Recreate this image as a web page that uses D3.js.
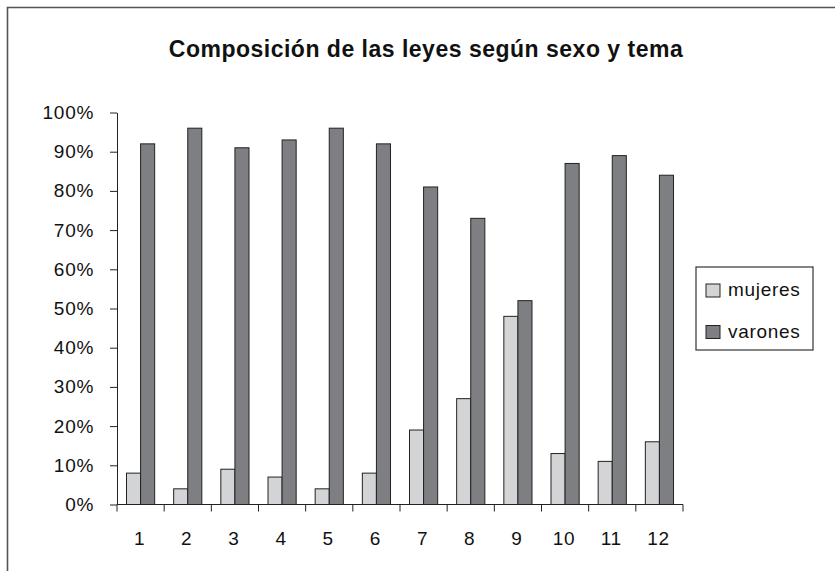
<!DOCTYPE html>
<html>
<head>
<meta charset="utf-8">
<script src="https://cdn.jsdelivr.net/npm/d3@7"></script>
<style>
  html, body { margin: 0; padding: 0; background: #fff; }
  svg { display: block; font-family: "Liberation Sans", Arial, Helvetica, sans-serif; }
</style>
</head>
<body>
<svg id="chart" width="835" height="571"></svg>
<script>
// data
const temas = ["1", "2", "3", "4", "5", "6", "7", "8", "9", "10", "11", "12"];
const series = ["mujeres", "varones"];
const mujeres = [8, 4, 9, 7, 4, 8, 19, 27, 48, 13, 11, 16];
const varones = [92, 96, 91, 93, 96, 92, 81, 73, 52, 87, 89, 84];
const yTicks = [0, 10, 20, 30, 40, 50, 60, 70, 80, 90, 100];
const colors = { mujeres: "#d3d4d6", varones: "#7e7f83" };

const labelSize = 19, labelSpacing = 0.7;

const svg = d3.select("#chart");

// outer frame (only top and left visible)
svg.append("path")
  .attr("d", "M7.5,571V7.5H835")
  .attr("fill", "none")
  .attr("stroke", "#555")
  .attr("stroke-width", 1.6);

svg.append("text")
  .attr("x", 426)
  .attr("y", 57)
  .attr("text-anchor", "middle")
  .attr("font-size", 23)
  .attr("letter-spacing", 0.5)
  .attr("font-weight", "bold")
  .attr("fill", "#111")
  .text("Composición de las leyes según sexo y tema");

const plot = { left: 117, right: 683, top: 112.5, bottom: 504.5 };

const x = d3.scaleBand()
  .domain(temas)
  .range([plot.left, plot.right]);

const xs = d3.scaleBand()
  .domain(series)
  .range([9.5, x.bandwidth() - 9.5]);

const y = d3.scaleLinear()
  .domain([0, 100])
  .range([plot.bottom, plot.top]);

const rows = temas.map((t, i) => ({ tema: t, mujeres: mujeres[i], varones: varones[i] }));

// bars
const groups = svg.append("g").selectAll("g")
  .data(rows)
  .join("g")
  .attr("transform", d => `translate(${x(d.tema)},0)`);

groups.selectAll("rect")
  .data(d => series.map(s => ({ key: s, value: d[s] })))
  .join("rect")
  .attr("x", d => xs(d.key))
  .attr("width", xs.bandwidth())
  .attr("y", d => y(d.value))
  .attr("height", d => y(0) - y(d.value))
  .attr("fill", d => colors[d.key])
  .attr("stroke", "#222")
  .attr("stroke-width", 1);

// y axis
const yAxis = svg.append("g")
  .attr("transform", `translate(${plot.left},0)`)
  .call(d3.axisLeft(y).tickValues(yTicks).tickFormat(d => d + "%").tickSize(7).tickSizeOuter(0).tickPadding(16));

// x axis: ticks on the category boundaries
const xAxis = svg.append("g")
  .attr("transform", `translate(0,${plot.bottom})`);
xAxis.append("line")
  .attr("x1", plot.left).attr("x2", plot.right)
  .attr("stroke", "#222");
xAxis.selectAll(".tk")
  .data(temas.concat(["end"]))
  .join("line")
  .attr("class", "tk")
  .attr("x1", (d, i) => i < temas.length ? x(d) : x(temas[temas.length - 1]) + x.bandwidth())
  .attr("x2", (d, i) => i < temas.length ? x(d) : x(temas[temas.length - 1]) + x.bandwidth())
  .attr("y1", 0).attr("y2", 7)
  .attr("stroke", "#222");
xAxis.selectAll(".lbl")
  .data(temas)
  .join("text")
  .attr("class", "lbl")
  .attr("x", d => x(d) + x.bandwidth() / 2 - 1)
  .attr("y", 40)
  .attr("text-anchor", "middle")
  .attr("font-size", labelSize)
  .attr("letter-spacing", labelSpacing)
  .attr("fill", "#111")
  .text(d => d);

yAxis.select(".domain").attr("stroke", "#222");
yAxis.selectAll(".tick line").attr("stroke", "#222");
yAxis.selectAll(".tick text")
  .attr("font-size", labelSize)
  .attr("letter-spacing", labelSpacing)
  .attr("fill", "#111")
  .attr("font-family", "'Liberation Sans', Arial, sans-serif");

// legend
const legend = svg.append("g").attr("transform", "translate(696,267)");
legend.append("rect")
  .attr("width", 117).attr("height", 83)
  .attr("fill", "#fff")
  .attr("stroke", "#333")
  .attr("stroke-width", 1.2);
const items = legend.selectAll(".item")
  .data(series)
  .join("g")
  .attr("class", "item")
  .attr("transform", (d, i) => `translate(10,${17 + i * 41.5})`);
items.append("rect")
  .attr("width", 14).attr("height", 13)
  .attr("fill", d => colors[d])
  .attr("stroke", "#222");
items.append("text")
  .attr("x", 22)
  .attr("y", 12)
  .attr("font-size", labelSize)
  .attr("letter-spacing", labelSpacing)
  .attr("fill", "#111")
  .text(d => d);
</script>
</body>
</html>
